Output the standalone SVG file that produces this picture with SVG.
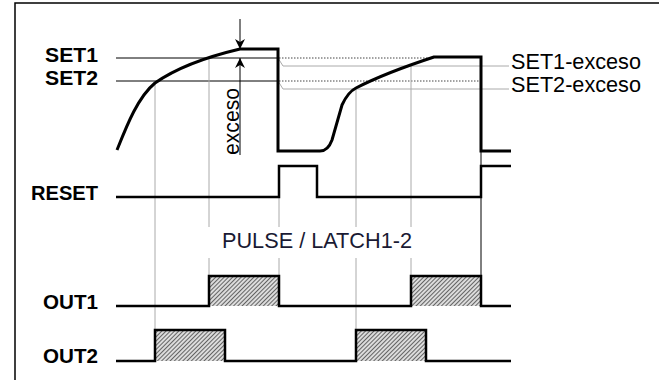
<svg xmlns="http://www.w3.org/2000/svg" width="659" height="380" viewBox="0 0 659 380">
  <defs>
    <pattern id="hatch" width="3" height="3" patternUnits="userSpaceOnUse" patternTransform="rotate(45)">
      <rect width="3" height="3" fill="#dcdcdc"/>
      <line x1="0" y1="0" x2="0" y2="3" stroke="#222" stroke-width="1.3"/>
    </pattern>
    <marker id="ah" viewBox="0 0 10 12" refX="10" refY="6" markerWidth="11" markerHeight="12" markerUnits="userSpaceOnUse" orient="auto">
      <path d="M0,1 L10,6 L0,11 L3,6 Z" fill="#000"/>
    </marker>
  </defs>
  <style>
    .lbl{font-family:"Liberation Sans",Arial,sans-serif;font-weight:bold;font-size:21px;fill:#000}
    .rl{font-family:"Liberation Sans",Arial,sans-serif;font-size:22.5px;fill:#000}
    .mid{font-family:"Liberation Sans",Arial,sans-serif;font-size:22.5px;fill:#1a1a33}
    .wave{fill:none;stroke:#000;stroke-width:3;stroke-linejoin:miter}
    .sig{fill:none;stroke:#000;stroke-width:2.5}
    .thin{fill:none;stroke:#000;stroke-width:1}
    .grey{fill:none;stroke:#aaa;stroke-width:1}
    .dot{fill:none;stroke:#444;stroke-width:1;stroke-dasharray:1.5 1.5}
  </style>
  <rect width="659" height="380" fill="#fff"/>
  <path d="M15,380 V3 H659" fill="none" stroke="#000" stroke-width="1.5"/>

  <g id="labels">
    <text class="lbl" x="98" y="62" text-anchor="end" textLength="53" lengthAdjust="spacingAndGlyphs">SET1</text>
    <text class="lbl" x="98" y="85" text-anchor="end" textLength="53" lengthAdjust="spacingAndGlyphs">SET2</text>
    <text class="lbl" x="98" y="200" text-anchor="end" textLength="67" lengthAdjust="spacingAndGlyphs">RESET</text>
    <text class="lbl" x="98" y="309" text-anchor="end" textLength="55" lengthAdjust="spacingAndGlyphs">OUT1</text>
    <text class="lbl" x="98" y="363" text-anchor="end" textLength="55" lengthAdjust="spacingAndGlyphs">OUT2</text>
    <text class="rl" x="511" y="69" textLength="130" lengthAdjust="spacingAndGlyphs">SET1-exceso</text>
    <text class="rl" x="511" y="92" textLength="130" lengthAdjust="spacingAndGlyphs">SET2-exceso</text>
    <text class="mid" x="222" y="248" textLength="190" lengthAdjust="spacingAndGlyphs">PULSE / LATCH1-2</text>
    <text class="rl" font-size="26" transform="translate(238.5,121.5) rotate(-90)" text-anchor="middle" textLength="67" lengthAdjust="spacingAndGlyphs">exceso</text>
  </g>

  <g id="connectors">
    <path class="thin" d="M116,58 H278 M116,81 H278"/>
    <path class="dot" d="M279,58 H432 M279,81 H480"/>
    <path class="grey" d="M278,58 L283,66 H509" stroke="#999"/>
    <path class="grey" d="M278,81 L283,89 H509" stroke="#777"/>
    <path class="grey" d="M155,83 V330 M209,58 V227 M209,258 V276 M279,197 V227 M279,258 V276 M356,89 V227 M356,258 V330 M411,66 V227 M411,258 V276"/>
    <path class="thin" d="M481,151 V276"/>
    <line class="thin" x1="240" y1="19" x2="240" y2="49" marker-end="url(#ah)"/>
    <line class="thin" x1="240" y1="155" x2="240" y2="58" marker-end="url(#ah)"/>
  </g>

  <g id="process-value">
    <path class="wave" d="M117,150 C127,125 138,97 155,83 Q185,62 240,49 H278 V151 H320 Q328,151 332,140 L342,105 Q348,92 356,88 Q385,73 434,57 H481 V151 H511"/>
  </g>

  <g id="reset">
    <path class="sig" d="M116,197 H279 V166 H317 V197 H481 V166 H511"/>
  </g>

  <g id="out1">
    <rect x="209" y="276" width="70" height="30" fill="url(#hatch)"/>
    <rect x="411" y="276" width="70" height="30" fill="url(#hatch)"/>
    <path class="sig" d="M116,306 H209 V276 H279 V306 H411 V276 H481 V306 H511"/>
  </g>

  <g id="out2">
    <rect x="155" y="330" width="70" height="31" fill="url(#hatch)"/>
    <rect x="356" y="330" width="70" height="31" fill="url(#hatch)"/>
    <path class="sig" d="M116,361 H155 V330 H225 V361 H356 V330 H426 V361 H511"/>
  </g>
</svg>
